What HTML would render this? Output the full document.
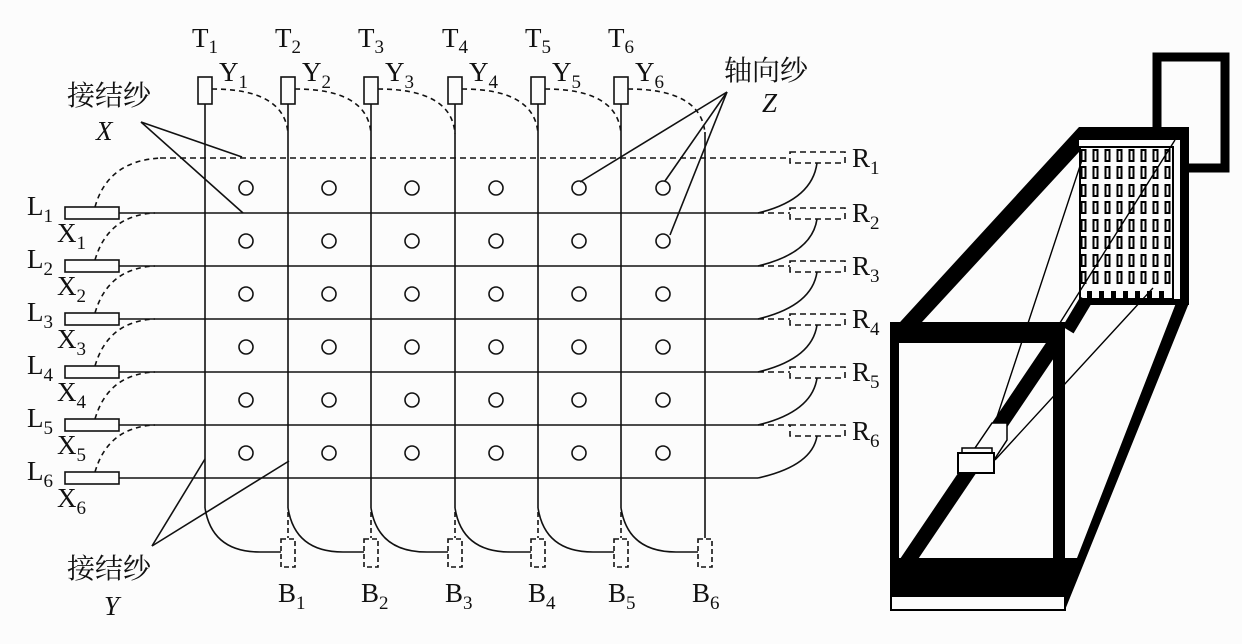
<!DOCTYPE html>
<html><head><meta charset="utf-8"><style>
html,body{margin:0;padding:0;background:#fcfcfc;}
svg{display:block;}
text{font-family:"Liberation Serif","Noto Serif CJK SC",serif;fill:#111;}
</style></head><body>
<svg width="1242" height="644" viewBox="0 0 1242 644" xmlns="http://www.w3.org/2000/svg">
<rect width="1242" height="644" fill="#fcfcfc"/>
<g stroke="#111" stroke-width="1.6" fill="none">
<line x1="119" y1="213" x2="758" y2="213"/>
<line x1="119" y1="266" x2="758" y2="266"/>
<line x1="119" y1="319" x2="758" y2="319"/>
<line x1="119" y1="372" x2="758" y2="372"/>
<line x1="119" y1="425" x2="758" y2="425"/>
<line x1="119" y1="478" x2="758" y2="478"/>
<line x1="160" y1="158" x2="790" y2="158" stroke-dasharray="6,4"/>
<g stroke-dasharray="6,4">
<line x1="758" y1="213" x2="790" y2="213"/>
<line x1="758" y1="266" x2="790" y2="266"/>
<line x1="758" y1="319" x2="790" y2="319"/>
<line x1="758" y1="372" x2="790" y2="372"/>
<line x1="758" y1="425" x2="790" y2="425"/>
<rect x="790" y="152" width="55" height="11"/>
<rect x="790" y="208" width="55" height="11"/>
<rect x="790" y="261" width="55" height="11"/>
<rect x="790" y="314" width="55" height="11"/>
<rect x="790" y="367" width="55" height="11"/>
<rect x="790" y="425" width="55" height="11"/>
</g>
<path d="M758 213 Q812 200 817 163"/>
<path d="M758 266 Q812 253 817 219"/>
<path d="M758 319 Q812 306 817 272"/>
<path d="M758 372 Q812 359 817 325"/>
<path d="M758 425 Q812 412 817 378"/>
<path d="M758 478 Q812 466 817 436"/>
<rect x="65" y="207" width="54" height="12"/>
<rect x="65" y="260" width="54" height="12"/>
<rect x="65" y="313" width="54" height="12"/>
<rect x="65" y="366" width="54" height="12"/>
<rect x="65" y="419" width="54" height="12"/>
<rect x="65" y="472" width="54" height="12"/>
<g stroke-dasharray="5,4">
<path d="M95 207 Q108 160 162 158"/>
<path d="M95 260 Q108 215 155 213"/>
<path d="M95 313 Q108 268 155 266"/>
<path d="M95 366 Q108 321 155 319"/>
<path d="M95 419 Q108 374 155 372"/>
<path d="M95 472 Q108 427 155 425"/>
</g>
<line x1="205" y1="104" x2="205" y2="508"/>
<line x1="288" y1="104" x2="288" y2="508"/>
<line x1="371" y1="104" x2="371" y2="508"/>
<line x1="455" y1="104" x2="455" y2="508"/>
<line x1="538" y1="104" x2="538" y2="508"/>
<line x1="621" y1="104" x2="621" y2="508"/>
<line x1="705" y1="132" x2="705" y2="538"/>
<rect x="198" y="77" width="14" height="27"/>
<rect x="281" y="77" width="14" height="27"/>
<rect x="364" y="77" width="14" height="27"/>
<rect x="448" y="77" width="14" height="27"/>
<rect x="531" y="77" width="14" height="27"/>
<rect x="614" y="77" width="14" height="27"/>
<g stroke-dasharray="5,4">
<path d="M212 89 Q285 89 288 134"/>
<path d="M295 89 Q368 89 371 134"/>
<path d="M378 89 Q452 89 455 134"/>
<path d="M462 89 Q535 89 538 134"/>
<path d="M545 89 Q618 89 621 134"/>
<path d="M628 89 Q702 89 705 134"/>
</g>
<path d="M205 508 Q212 552 260 552 L281 552"/>
<path d="M288 508 Q295 552 343 552 L364 552"/>
<path d="M371 508 Q378 552 427 552 L448 552"/>
<path d="M455 508 Q462 552 510 552 L531 552"/>
<path d="M538 508 Q545 552 593 552 L614 552"/>
<path d="M621 508 Q628 552 676 552 L698 552"/>
<g stroke-dasharray="5,3">
<line x1="288" y1="512" x2="288" y2="538"/>
<line x1="371" y1="512" x2="371" y2="538"/>
<line x1="455" y1="512" x2="455" y2="538"/>
<line x1="538" y1="512" x2="538" y2="538"/>
<line x1="621" y1="512" x2="621" y2="538"/>
<rect x="281" y="539" width="14" height="28"/>
<rect x="364" y="539" width="14" height="28"/>
<rect x="448" y="539" width="14" height="28"/>
<rect x="531" y="539" width="14" height="28"/>
<rect x="614" y="539" width="14" height="28"/>
<rect x="698" y="539" width="14" height="28"/>
</g>
<line x1="141" y1="122" x2="242" y2="157"/>
<line x1="141" y1="122" x2="243" y2="213"/>
<line x1="152" y1="546" x2="205" y2="459"/>
<line x1="152" y1="546" x2="289" y2="461"/>
<line x1="727" y1="92" x2="580" y2="182"/>
<line x1="727" y1="92" x2="665" y2="181"/>
<line x1="727" y1="92" x2="670" y2="235"/>
</g>
<g stroke="#111" stroke-width="1.6" fill="none">
<g id="row"><circle cx="246" cy="188" r="7"/><circle cx="329" cy="188" r="7"/><circle cx="412" cy="188" r="7"/><circle cx="496" cy="188" r="7"/><circle cx="579" cy="188" r="7"/><circle cx="663" cy="188" r="7"/></g>
<use href="#row" y="53"/><use href="#row" y="106"/><use href="#row" y="159"/><use href="#row" y="212"/><use href="#row" y="265"/>
</g>
<g font-size="27">
<text x="192" y="47">T<tspan font-size="19" dy="6">1</tspan></text>
<text x="275" y="47">T<tspan font-size="19" dy="6">2</tspan></text>
<text x="358" y="47">T<tspan font-size="19" dy="6">3</tspan></text>
<text x="442" y="47">T<tspan font-size="19" dy="6">4</tspan></text>
<text x="525" y="47">T<tspan font-size="19" dy="6">5</tspan></text>
<text x="608" y="47">T<tspan font-size="19" dy="6">6</tspan></text>
<text x="219" y="81">Y<tspan font-size="19" dy="7">1</tspan></text>
<text x="302" y="81">Y<tspan font-size="19" dy="7">2</tspan></text>
<text x="385" y="81">Y<tspan font-size="19" dy="7">3</tspan></text>
<text x="469" y="81">Y<tspan font-size="19" dy="7">4</tspan></text>
<text x="552" y="81">Y<tspan font-size="19" dy="7">5</tspan></text>
<text x="635" y="81">Y<tspan font-size="19" dy="7">6</tspan></text>
<text x="27" y="215">L<tspan font-size="19" dy="7">1</tspan></text>
<text x="27" y="268">L<tspan font-size="19" dy="7">2</tspan></text>
<text x="27" y="321">L<tspan font-size="19" dy="7">3</tspan></text>
<text x="27" y="374">L<tspan font-size="19" dy="7">4</tspan></text>
<text x="27" y="427">L<tspan font-size="19" dy="7">5</tspan></text>
<text x="27" y="480">L<tspan font-size="19" dy="7">6</tspan></text>
<text x="57" y="242">X<tspan font-size="19" dy="7">1</tspan></text>
<text x="57" y="295">X<tspan font-size="19" dy="7">2</tspan></text>
<text x="57" y="348">X<tspan font-size="19" dy="7">3</tspan></text>
<text x="57" y="401">X<tspan font-size="19" dy="7">4</tspan></text>
<text x="57" y="454">X<tspan font-size="19" dy="7">5</tspan></text>
<text x="57" y="507">X<tspan font-size="19" dy="7">6</tspan></text>
<text x="852" y="167">R<tspan font-size="19" dy="7">1</tspan></text>
<text x="852" y="222">R<tspan font-size="19" dy="7">2</tspan></text>
<text x="852" y="275">R<tspan font-size="19" dy="7">3</tspan></text>
<text x="852" y="328">R<tspan font-size="19" dy="7">4</tspan></text>
<text x="852" y="381">R<tspan font-size="19" dy="7">5</tspan></text>
<text x="852" y="440">R<tspan font-size="19" dy="7">6</tspan></text>
<text x="278" y="602">B<tspan font-size="19" dy="7">1</tspan></text>
<text x="361" y="602">B<tspan font-size="19" dy="7">2</tspan></text>
<text x="445" y="602">B<tspan font-size="19" dy="7">3</tspan></text>
<text x="528" y="602">B<tspan font-size="19" dy="7">4</tspan></text>
<text x="608" y="602">B<tspan font-size="19" dy="7">5</tspan></text>
<text x="692" y="602">B<tspan font-size="19" dy="7">6</tspan></text>
<text x="96" y="140" font-style="italic">X</text>
<text x="104" y="615" font-style="italic">Y</text>
<text x="762" y="112" font-style="italic">Z</text>
</g>
<g font-size="28">
<text x="67" y="105">接结纱</text>
<text x="67" y="578">接结纱</text>
<text x="724" y="80">轴向纱</text>
</g>
<g>
<rect x="1157" y="57" width="68" height="111" fill="none" stroke="#000" stroke-width="9"/>
<rect x="1079" y="127" width="110" height="178" fill="#000"/>
<rect x="1079" y="140" width="101" height="159" fill="#fcfcfc"/>
<rect x="1080" y="147" width="93" height="152" fill="none" stroke="#000" stroke-width="2"/>
<g fill="none" stroke="#000" stroke-width="2" id="gcol">
<rect x="1081.5" y="150" width="4" height="11"/><rect x="1081.5" y="167" width="4" height="11"/><rect x="1081.5" y="185" width="4" height="11"/><rect x="1081.5" y="202" width="4" height="11"/><rect x="1081.5" y="220" width="4" height="11"/><rect x="1081.5" y="237" width="4" height="11"/><rect x="1081.5" y="255" width="4" height="11"/><rect x="1081.5" y="272" width="4" height="11"/>
</g>
<use href="#gcol" x="12"/><use href="#gcol" x="24"/><use href="#gcol" x="36"/><use href="#gcol" x="48"/><use href="#gcol" x="60"/><use href="#gcol" x="72"/><use href="#gcol" x="84"/>
<g fill="#000">
<rect x="1087" y="291" width="5" height="7"/><rect x="1099" y="291" width="5" height="7"/><rect x="1111" y="291" width="5" height="7"/><rect x="1123" y="291" width="5" height="7"/><rect x="1135" y="291" width="5" height="7"/><rect x="1147" y="291" width="5" height="7"/><rect x="1159" y="291" width="5" height="7"/>
</g>
<polygon points="890,333 1079,127 1079,152 922,322" fill="#000"/>
<polygon points="1176,303 1189,303 1065,610 1060,595 1077,558" fill="#000"/>
<line x1="1068" y1="330" x2="1086" y2="300" stroke="#000" stroke-width="13"/>
<rect x="890" y="322" width="175" height="273" fill="#000"/>
<rect x="899" y="343" width="154" height="215" fill="#fcfcfc"/>
<line x1="1057" y1="340" x2="903" y2="568" stroke="#000" stroke-width="15"/>
<polygon points="890,558 1082,558 1067,595 890,595" fill="#000"/>
<rect x="891" y="596" width="174" height="14" fill="#fcfcfc" stroke="#000" stroke-width="2"/>
<g stroke="#000" stroke-width="1.4" fill="none">
<line x1="1082" y1="160" x2="995" y2="423"/>
<line x1="1175" y1="140" x2="980" y2="450"/>
<line x1="1153" y1="288" x2="995" y2="460"/>
</g>
<polygon points="992,423 1007,423 1007,440 994,460 975,448" fill="#fcfcfc" stroke="#000" stroke-width="1.5"/>
<rect x="962" y="448" width="30" height="5" fill="#fcfcfc" stroke="#000" stroke-width="1.5"/>
<rect x="958" y="453" width="36" height="20" fill="#fcfcfc" stroke="#000" stroke-width="2"/>
</g>
</svg>
</body></html>
